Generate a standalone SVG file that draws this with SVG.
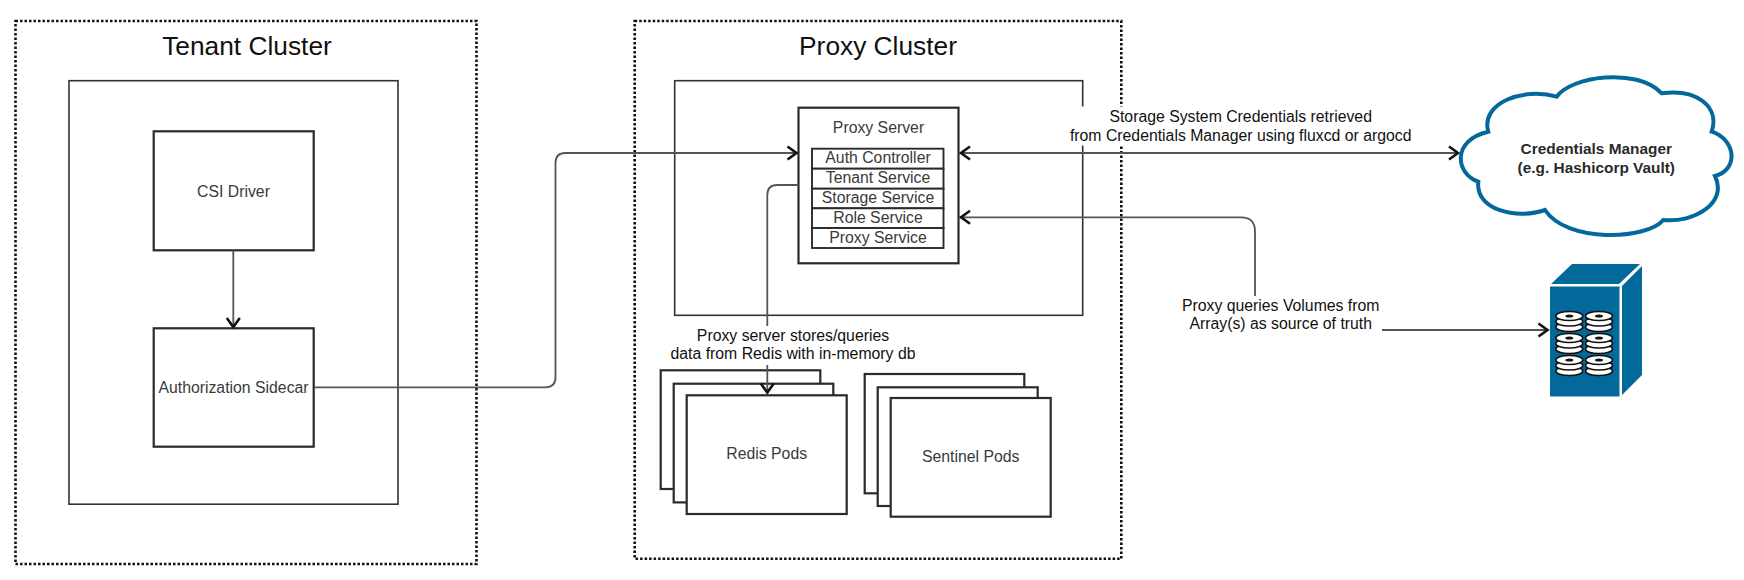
<svg xmlns="http://www.w3.org/2000/svg" width="1744" height="580" viewBox="0 0 1744 580">
<style>
text{font-family:"Liberation Sans",Arial,sans-serif;font-size:15.8px;text-anchor:middle;fill:#3a3a3a}
.title{font-size:26.3px;fill:#111}
.lab{fill:#111}
.cloudt{font-weight:bold;font-size:15.4px;fill:#2a2a2a}
.dot{fill:none;stroke:#111;stroke-width:2.6;stroke-dasharray:2.5 2}
.inner{fill:none;stroke:#333;stroke-width:1.6}
.box{fill:#fff;stroke:#2a2a2a;stroke-width:2.2}
.cell{fill:#fff;stroke:#2a2a2a;stroke-width:1.9}
.con{fill:none;stroke:#555;stroke-width:1.8}
.mask{fill:#fff}
.blue{fill:#03689a}
.disk{fill:#fff;stroke:#111;stroke-width:1.5}
</style>
<defs>
<marker id="open" markerUnits="userSpaceOnUse" markerWidth="16" markerHeight="18" refX="13" refY="8" orient="auto-start-reverse" viewBox="0 0 16 18">
<path d="M3 1.5L12 8L3 14.5" fill="none" stroke="#111" stroke-width="2.6"/>
</marker>
<g id="stack">
<ellipse class="disk" cx="0" cy="16" rx="13.5" ry="4.6"/>
<ellipse class="disk" cx="0" cy="10.5" rx="13.5" ry="4.6"/>
<ellipse class="disk" cx="0" cy="5" rx="13.5" ry="4.6"/>
<ellipse cx="0" cy="5" rx="4" ry="1.6" fill="#111"/>
</g>
</defs>
<rect width="1744" height="580" fill="#fff"/>

<g id="tenant-cluster">
<rect class="dot" x="15.5" y="21" width="461" height="543"/>
<text class="title" x="247" y="55">Tenant Cluster</text>
<rect class="inner" x="69" y="80.7" width="329" height="423.5"/>
</g>
<g id="proxy-cluster">
<rect class="dot" x="634.7" y="21" width="486.6" height="537.7"/>
<text class="title" x="878" y="55">Proxy Cluster</text>
<rect class="inner" x="674.7" y="80.7" width="408" height="234.6"/>
</g>

<g id="csi-driver">
<rect class="box" x="153.7" y="131.3" width="160" height="119"/>
<text x="233.5" y="196.7">CSI Driver</text>
</g>
<g id="authorization-sidecar">
<rect class="box" x="153.7" y="328.3" width="160" height="118.4"/>
<text x="233.5" y="392.7">Authorization Sidecar</text>
</g>
<g id="proxy-server">
<rect class="box" x="798.5" y="107.7" width="160" height="155.6"/>
<text x="878.5" y="133.3">Proxy Server</text>
<rect class="cell" x="812" y="148.7" width="131.5" height="20"/>
<text x="878" y="163.3">Auth Controller</text>
<rect class="cell" x="812" y="168.7" width="131.5" height="20"/>
<text x="878" y="183.3">Tenant Service</text>
<rect class="cell" x="812" y="188.7" width="131.5" height="19.6"/>
<text x="878" y="203.3">Storage Service</text>
<rect class="cell" x="812" y="208.3" width="131.5" height="19.7"/>
<text x="878" y="222.7">Role Service</text>
<rect class="cell" x="812" y="228" width="131.5" height="20"/>
<text x="878" y="242.7">Proxy Service</text>
</g>
<g id="redis-pods">
<rect class="box" x="660.7" y="370.3" width="159.6" height="118.7"/>
<rect class="box" x="673.7" y="383.7" width="159.6" height="118.7"/>
<rect class="box" x="686.7" y="395.3" width="160" height="118.7"/>
<text x="766.7" y="459.3">Redis Pods</text>
</g>
<g id="sentinel-pods">
<rect class="box" x="864.7" y="374" width="159.6" height="119.3"/>
<rect class="box" x="877.7" y="387.3" width="160" height="118.7"/>
<rect class="box" x="890.7" y="398" width="160" height="118.7"/>
<text x="970.7" y="462">Sentinel Pods</text>
</g>
<g id="credentials-manager">
<path d="M1556.7 96.7C1570 76.7 1636.7 66.7 1661.7 93.3C1696.7 88.3 1720 106.7 1711.7 131.7C1736.7 140 1738.3 170 1715 176C1728.3 203.3 1693.3 223.3 1663.3 220C1646.7 240 1566.7 243.3 1545 210C1516.7 220 1475 210 1478.3 181.7C1455 173.3 1451.7 140 1488.3 131.7C1480 103.3 1523.3 86.7 1556.7 96.7Z" fill="#fff" stroke="#03689a" stroke-width="4"/>
<text class="cloudt" x="1596.3" y="154">Credentials Manager</text>
<text class="cloudt" x="1596.3" y="172.7">(e.g. Hashicorp Vault)</text>
</g>
<g id="storage-array">
<polygon class="blue" points="1551,284 1572,264 1640,264 1619,284"/>
<polygon class="blue" points="1622,286 1642,266 1642,375 1622,395"/>
<rect class="blue" x="1550" y="286.5" width="69.5" height="110"/>
<use href="#stack" x="1569.3" y="311"/>
<use href="#stack" x="1599" y="311"/>
<use href="#stack" x="1569.3" y="333"/>
<use href="#stack" x="1599" y="333"/>
<use href="#stack" x="1569.3" y="355"/>
<use href="#stack" x="1599" y="355"/>
</g>

<g id="connectors">
<path class="con" marker-end="url(#open)" d="M233.3 250.3V328"/>
<path class="con" marker-end="url(#open)" d="M314 387.3H545.5Q555.5 387.3 555.5 377.3V163Q555.5 153 565.5 153H797.5"/>
<path class="con" marker-end="url(#open)" d="M798.5 185H777.3Q767.3 185 767.3 195V393.5"/>
<path class="con" marker-start="url(#open)" marker-end="url(#open)" d="M960 153H1459"/>
<path class="con" marker-start="url(#open)" marker-end="url(#open)" d="M960 217.3H1241Q1255 217.3 1255 231.3V316Q1255 330 1269 330H1548.5"/>
<rect class="mask" x="671" y="326" width="245" height="39"/>
<text class="lab" x="793" y="341">Proxy server stores/queries</text>
<text class="lab" x="793" y="359.3">data from Redis with in-memory db</text>
<rect class="mask" x="1070" y="106.5" width="342" height="39"/>
<text class="lab" x="1240.7" y="122.3">Storage System Credentials retrieved</text>
<text class="lab" x="1240.7" y="140.7">from Credentials Manager using fluxcd or argocd</text>
<rect class="mask" x="1181" y="296" width="201" height="41"/>
<text class="lab" x="1280.7" y="310.7">Proxy queries Volumes from</text>
<text class="lab" x="1280.7" y="329">Array(s) as source of truth</text>
</g>
</svg>
